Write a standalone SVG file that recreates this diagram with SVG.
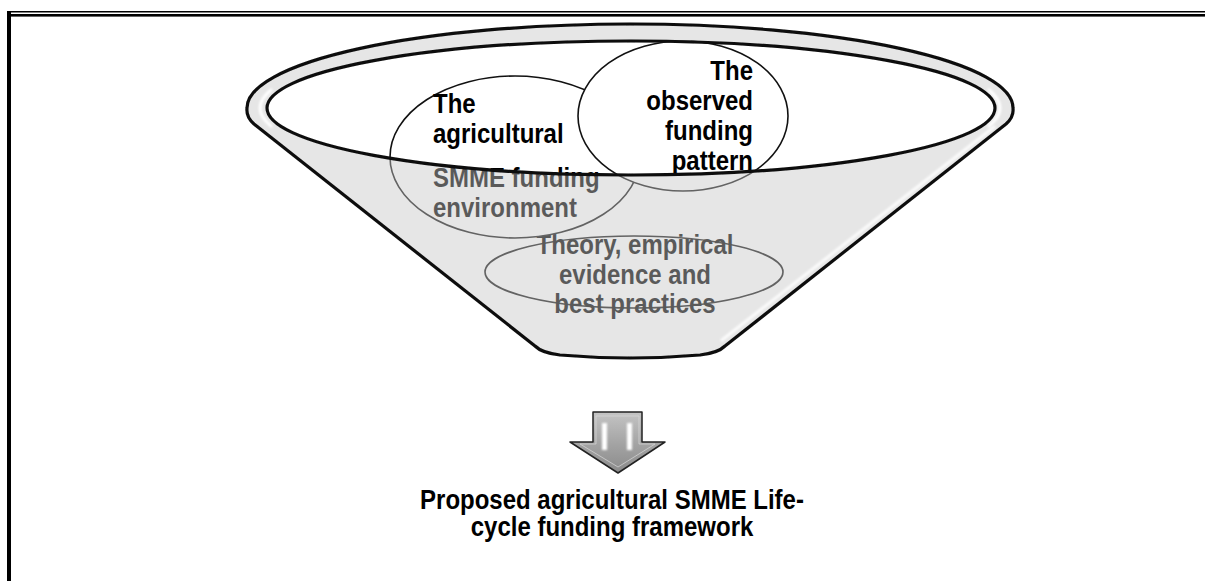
<svg xmlns="http://www.w3.org/2000/svg" width="1205" height="581" viewBox="0 0 1205 581">
  <defs>
    <style>
      .lbl{font-family:"Liberation Sans",Arial,Helvetica,sans-serif;font-weight:bold;font-size:24px;fill:#000}
      .bubble{fill:#fff;stroke:#111;stroke-width:1.6}
      .edge{fill:none;stroke:#0d0d0d;stroke-width:3.2;stroke-linejoin:round}
      .gloss{fill:none;stroke:#fff;stroke-linecap:round}
    </style>
    <filter id="soft" filterUnits="userSpaceOnUse" x="0" y="0" width="1205" height="581">
      <feGaussianBlur stdDeviation="0.6"/>
    </filter>
    <filter id="glow" filterUnits="userSpaceOnUse" x="0" y="0" width="1205" height="581">
      <feGaussianBlur stdDeviation="1.3"/>
    </filter>
    <linearGradient id="arrowFill" x1="0" y1="0" x2="0" y2="1">
      <stop offset="0" stop-color="#c4c4c4"/>
      <stop offset="0.55" stop-color="#a2a2a2"/>
      <stop offset="1" stop-color="#8a8a8a"/>
    </linearGradient>
    <!-- funnel silhouette: rim top arc, two sides, rounded spout -->
    <path id="funnelBody" d="M535,346 L254,124 Q246,117 247,108 A383 84 0 0 1 1013,108 Q1014,117 1006,124 L725,346 Q718,353 700,355 Q630,361 560,355 Q542,353 535,346 Z"/>
    <path id="mouth" d="M267,108 A364 67 0 1 0 995,108 A364 67 0 1 0 267,108 Z"/>
  </defs>

  <rect width="1205" height="581" fill="#fff"/>

  <!-- page frame -->
  <g id="frame" fill="#000">
    <rect x="7" y="11" width="4" height="570"/>
    <rect x="7" y="11" width="1198" height="1.5"/>
    <rect x="11" y="14" width="1194" height="2.6"/>
  </g>

  <!-- funnel base (white, shaded later by the front overlay) -->
  <g id="funnel">
    <use href="#funnelBody" fill="#fff"/>
  </g>

  <!-- inner bubbles -->
  <g id="theory">
    <ellipse class="bubble" cx="634" cy="272" rx="149" ry="36"/>
    <text class="lbl" text-anchor="middle" transform="translate(635,254) scale(1,1.18)">Theory, empirical</text>
    <text class="lbl" text-anchor="middle" transform="translate(635,284) scale(1,1.18)">evidence and</text>
    <text class="lbl" text-anchor="middle" transform="translate(635,313) scale(1,1.18)">best practices</text>
  </g>

  <g id="environment">
    <ellipse class="bubble" cx="515" cy="157" rx="125" ry="81"/>
    <text class="lbl" transform="translate(433,113) scale(1,1.18)">The</text>
    <text class="lbl" transform="translate(433,143) scale(1,1.18)">agricultural</text>
    <text class="lbl" transform="translate(433,187) scale(1,1.18)">SMME funding</text>
    <text class="lbl" transform="translate(433,217) scale(1,1.18)">environment</text>
  </g>

  <g id="observed">
    <ellipse class="bubble" cx="683" cy="116" rx="105" ry="75"/>
    <text class="lbl" text-anchor="end" transform="translate(753,79.5) scale(1,1.18)">The</text>
    <text class="lbl" text-anchor="end" transform="translate(753,109.5) scale(1,1.18)">observed</text>
    <text class="lbl" text-anchor="end" transform="translate(753,139.5) scale(1,1.18)">funding</text>
    <text class="lbl" text-anchor="end" transform="translate(753,169.5) scale(1,1.18)">pattern</text>
  </g>

  <!-- translucent funnel wall in front of the bubbles, open mouth left clear -->
  <g id="funnel-front">
    <path d="M535,346 L254,124 Q246,117 247,108 A383 84 0 0 1 1013,108 Q1014,117 1006,124 L725,346 Q718,353 700,355 Q630,361 560,355 Q542,353 535,346 Z M267,108 A364 67 0 1 0 995,108 A364 67 0 1 0 267,108 Z" fill-rule="evenodd" fill="rgb(200,200,200)" fill-opacity="0.45"/>
    <!-- glossy highlights -->
    <path class="gloss" filter="url(#glow)" stroke-width="3" d="M271,90 A373 75 0 0 0 271,126"/>
    <path class="gloss" filter="url(#glow)" stroke-width="3" d="M989,90 A373 75 0 0 1 989,126"/>
    <path class="gloss" filter="url(#glow)" stroke-width="3" stroke-opacity="0.85" d="M994,127 L722,340"/>
    <!-- outlines -->
    <use href="#funnelBody" class="edge" filter="url(#soft)"/>
    <use href="#mouth" class="edge" stroke-width="2.8" filter="url(#soft)"/>
  </g>

  <!-- flow arrow -->
  <g id="connectors">
    <path d="M593,412 H642 V442 H665 L618,473 L570,442 H593 Z" fill="url(#arrowFill)" stroke="#222" stroke-width="1.5" stroke-linejoin="round"/>
    <path d="M596,416 H639 V444 H655 L618,467 L580,444 H596 Z" fill="none" stroke="#d8d8d8" stroke-width="1" opacity="0.7"/>
    <rect x="602" y="423" width="5" height="27" fill="#fff" filter="url(#glow)"/>
    <rect x="627" y="423" width="5" height="27" fill="#fff" filter="url(#glow)"/>
  </g>

  <g id="result">
    <text class="lbl" text-anchor="middle" transform="translate(612,509) scale(1,1.12)">Proposed agricultural SMME Life-</text>
    <text class="lbl" text-anchor="middle" transform="translate(612,535.5) scale(1,1.12)">cycle funding framework</text>
  </g>
</svg>
